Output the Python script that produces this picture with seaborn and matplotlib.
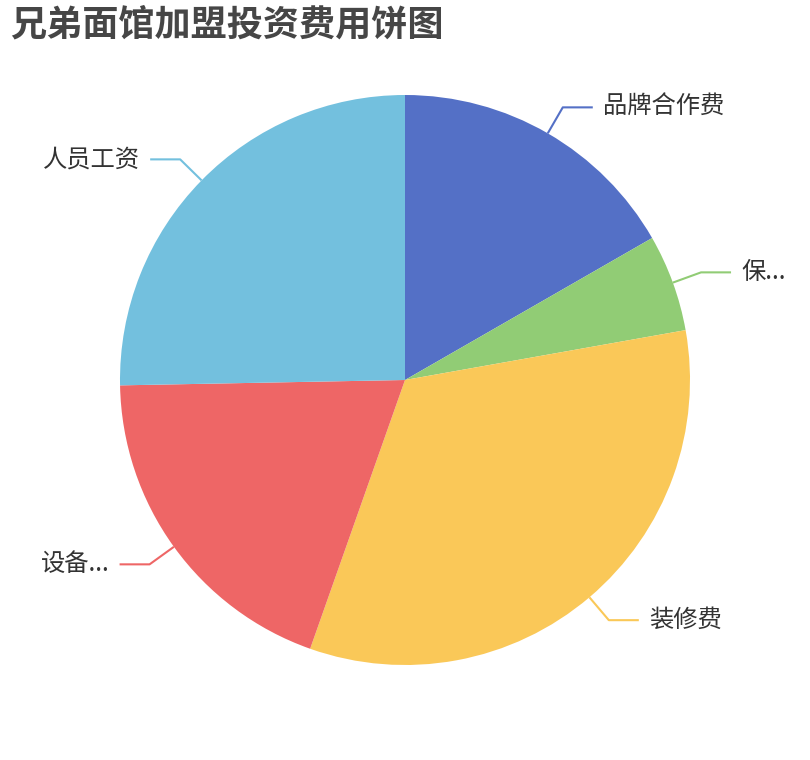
import matplotlib
matplotlib.use("Agg")
import matplotlib.pyplot as plt
import seaborn as sns
import numpy as np

categories = ["品牌合作费", "保证金", "装修费", "设备费用", "人员工资"]
display_labels = ["品牌合作费", "保...", "装修费", "设备...", "人员工资"]
values = [16.7, 5.5, 33.2, 19.3, 25.3]
colors = ["#5470c6", "#91cc75", "#fac858", "#ee6666", "#73c0de"]
title = "兄弟面馆加盟投资费用饼图"

sns.set_theme(style="white")
plt.rcParams['font.family'] = ['Noto Sans CJK SC', 'DejaVu Sans']

W, H = 810, 760
fig = plt.figure(figsize=(W / 100, H / 100), dpi=100)
ax = fig.add_axes([0, 0, 1, 1])

cx, cy_px, R = 405, 380, 285
cy = H - cy_px
wedges, _ = ax.pie(values, startangle=90, counterclock=False, center=(cx, cy),
                   radius=R, colors=colors, wedgeprops=dict(linewidth=0),
                   frame=True)
ax.set_xlim(0, W)
ax.set_ylim(0, H)
ax.set_aspect("equal")
ax.axis("off")

len1, len2 = 30, 30
for w, lab, col in zip(wedges, display_labels, colors):
    mid = np.deg2rad((w.theta1 + w.theta2) / 2)
    x0, y0 = cx + R * np.cos(mid), cy + R * np.sin(mid)
    x1, y1 = cx + (R + len1) * np.cos(mid), cy + (R + len1) * np.sin(mid)
    side = 1 if np.cos(mid) >= 0 else -1
    x2 = x1 + side * len2
    ax.plot([x0, x1, x2], [y0, y1, y1], color=col, lw=1.5, solid_capstyle="butt")
    ax.text(x2 + side * 10, y1, lab, ha="left" if side > 0 else "right",
            va="center", fontsize=17.5, color="#333333")

fig.text(10 / W, 1 - 25 / H, title, ha="left", va="center", fontsize=26,
         fontweight="bold", color="#464646")

fig.savefig("out.png", dpi=100, facecolor="white")
